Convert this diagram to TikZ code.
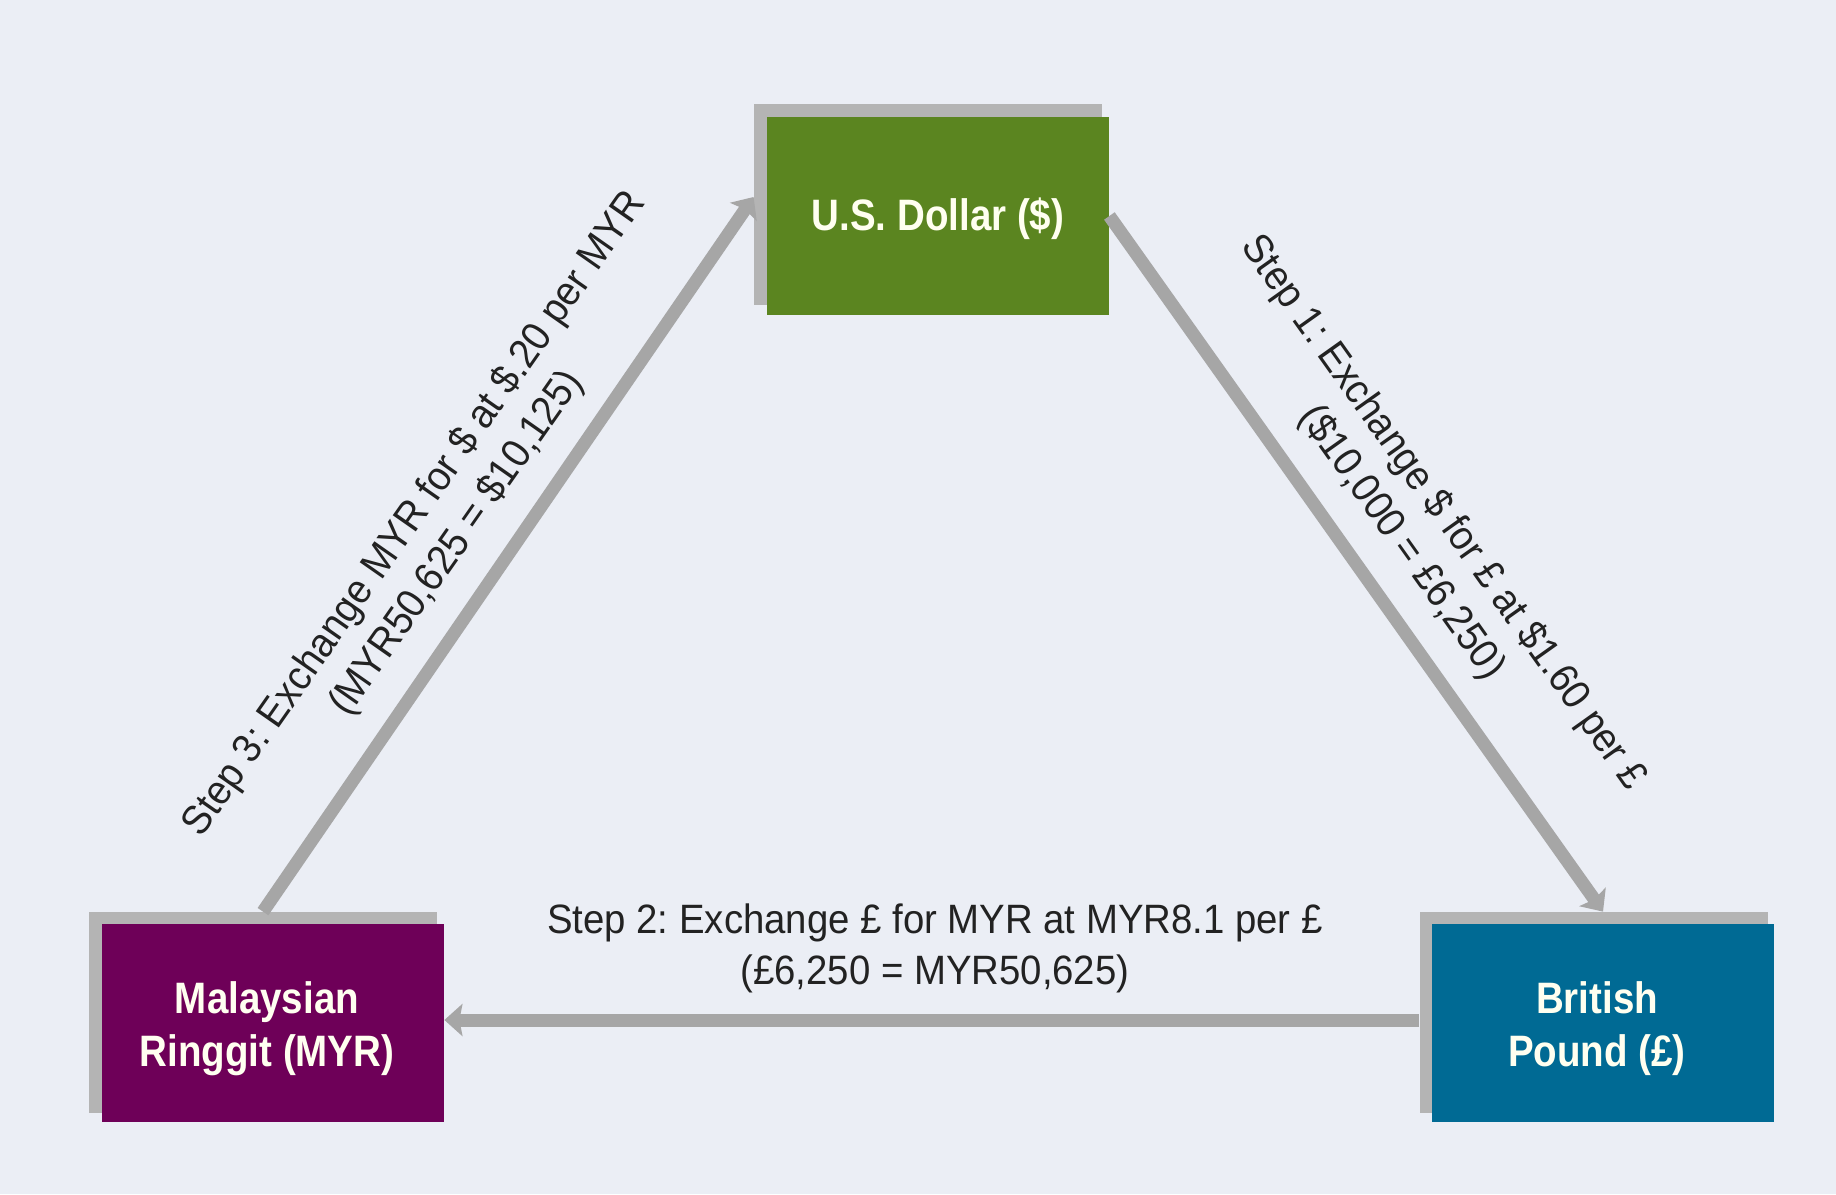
\documentclass[tikz,border=0pt]{standalone}
\usepackage{fontspec}
\setmainfont{Liberation Sans}
\newfontfamily\lblfont{Liberation Sans}[FakeStretch=0.935]
\newfontfamily\boxfont{Liberation Sans}[FakeStretch=0.875]
\usetikzlibrary{arrows.meta,calc}
\definecolor{bgc}{RGB}{235,238,245}
\definecolor{usdc}{RGB}{91,133,32}
\definecolor{myrc}{RGB}{110,0,88}
\definecolor{gbpc}{RGB}{0,106,148}
\definecolor{shadowc}{RGB}{180,180,180}
\definecolor{arrowc}{RGB}{166,166,166}
\definecolor{txtc}{RGB}{34,34,34}
\definecolor{boxtxt}{RGB}{255,255,240}
\frenchspacing
\begin{document}
\begin{tikzpicture}[x=0.5pt,y=-0.5pt,
  cur/.style={minimum width=171pt,minimum height=99pt,inner sep=0pt},
  curtxt/.style={text=boxtxt,align=center,inner sep=0pt,
    font=\boxfont\bfseries\fontsize{22}{26.5}\selectfont},
  shad/.style={fill=shadowc,minimum width=174pt,minimum height=100.5pt,inner sep=0pt},
  flow/.style={draw=arrowc,line width=6.5pt,-{Stealth[width=16pt,length=9pt,inset=1.5pt]}},
  lbl/.style={text=txtc,align=center,inner sep=0pt,font=\lblfont\fontsize{20.5}{25.5}\selectfont}]
\fill[bgc] (0,0) rectangle (1836,1194);
\useasboundingbox (0,0) rectangle (1836,1194);
% shadows
\node[shad] (usdS) at (928,204) {};
\node[shad] (myrS) at (263,1012.5) {};
\node[shad] (gbpS) at (1593.5,1012.5) {};
% boxes
\node[cur,fill=usdc,label={[curtxt,yshift=-1.5pt]center:U.S. Dollar (\$)}] (usd) at (938,216) {};
\node[cur,fill=myrc,label={[curtxt,xshift=-3pt,yshift=-3pt]center:{Malaysian\\Ringgit (MYR)}}] (myr) at (273,1023) {};
\node[cur,fill=gbpc,label={[curtxt,xshift=-3pt,yshift=-3pt]center:{British\\Pound (£)}}] (gbp) at (1603,1023) {};
% connectors
\draw[flow] (usd.east) -- (gbp.north |- gbpS.north);
\draw[flow] ([yshift=1.5pt]gbpS.west |- myr.east) -- ([yshift=1.5pt]myr.east);
\draw[flow] (myrS.north) -- ([yshift=3.5pt]usdS.west);
% labels
\node[lbl,rotate=-54.6] (l1) at (1422,528) {Step 1: Exchange \$ for £ at \$1.60 per £\\(\$10,000 = £6,250)};
\node[lbl] (l2) at (935,948) {Step 2: Exchange £ for MYR at MYR8.1 per £\\(£6,250 = MYR50,625)};
\node[lbl,rotate=55] (l3) at (436,529) {Step 3: Exchange MYR for \$ at \$.20 per MYR\\(MYR50,625 = \$10,125)};
\end{tikzpicture}
\end{document}
